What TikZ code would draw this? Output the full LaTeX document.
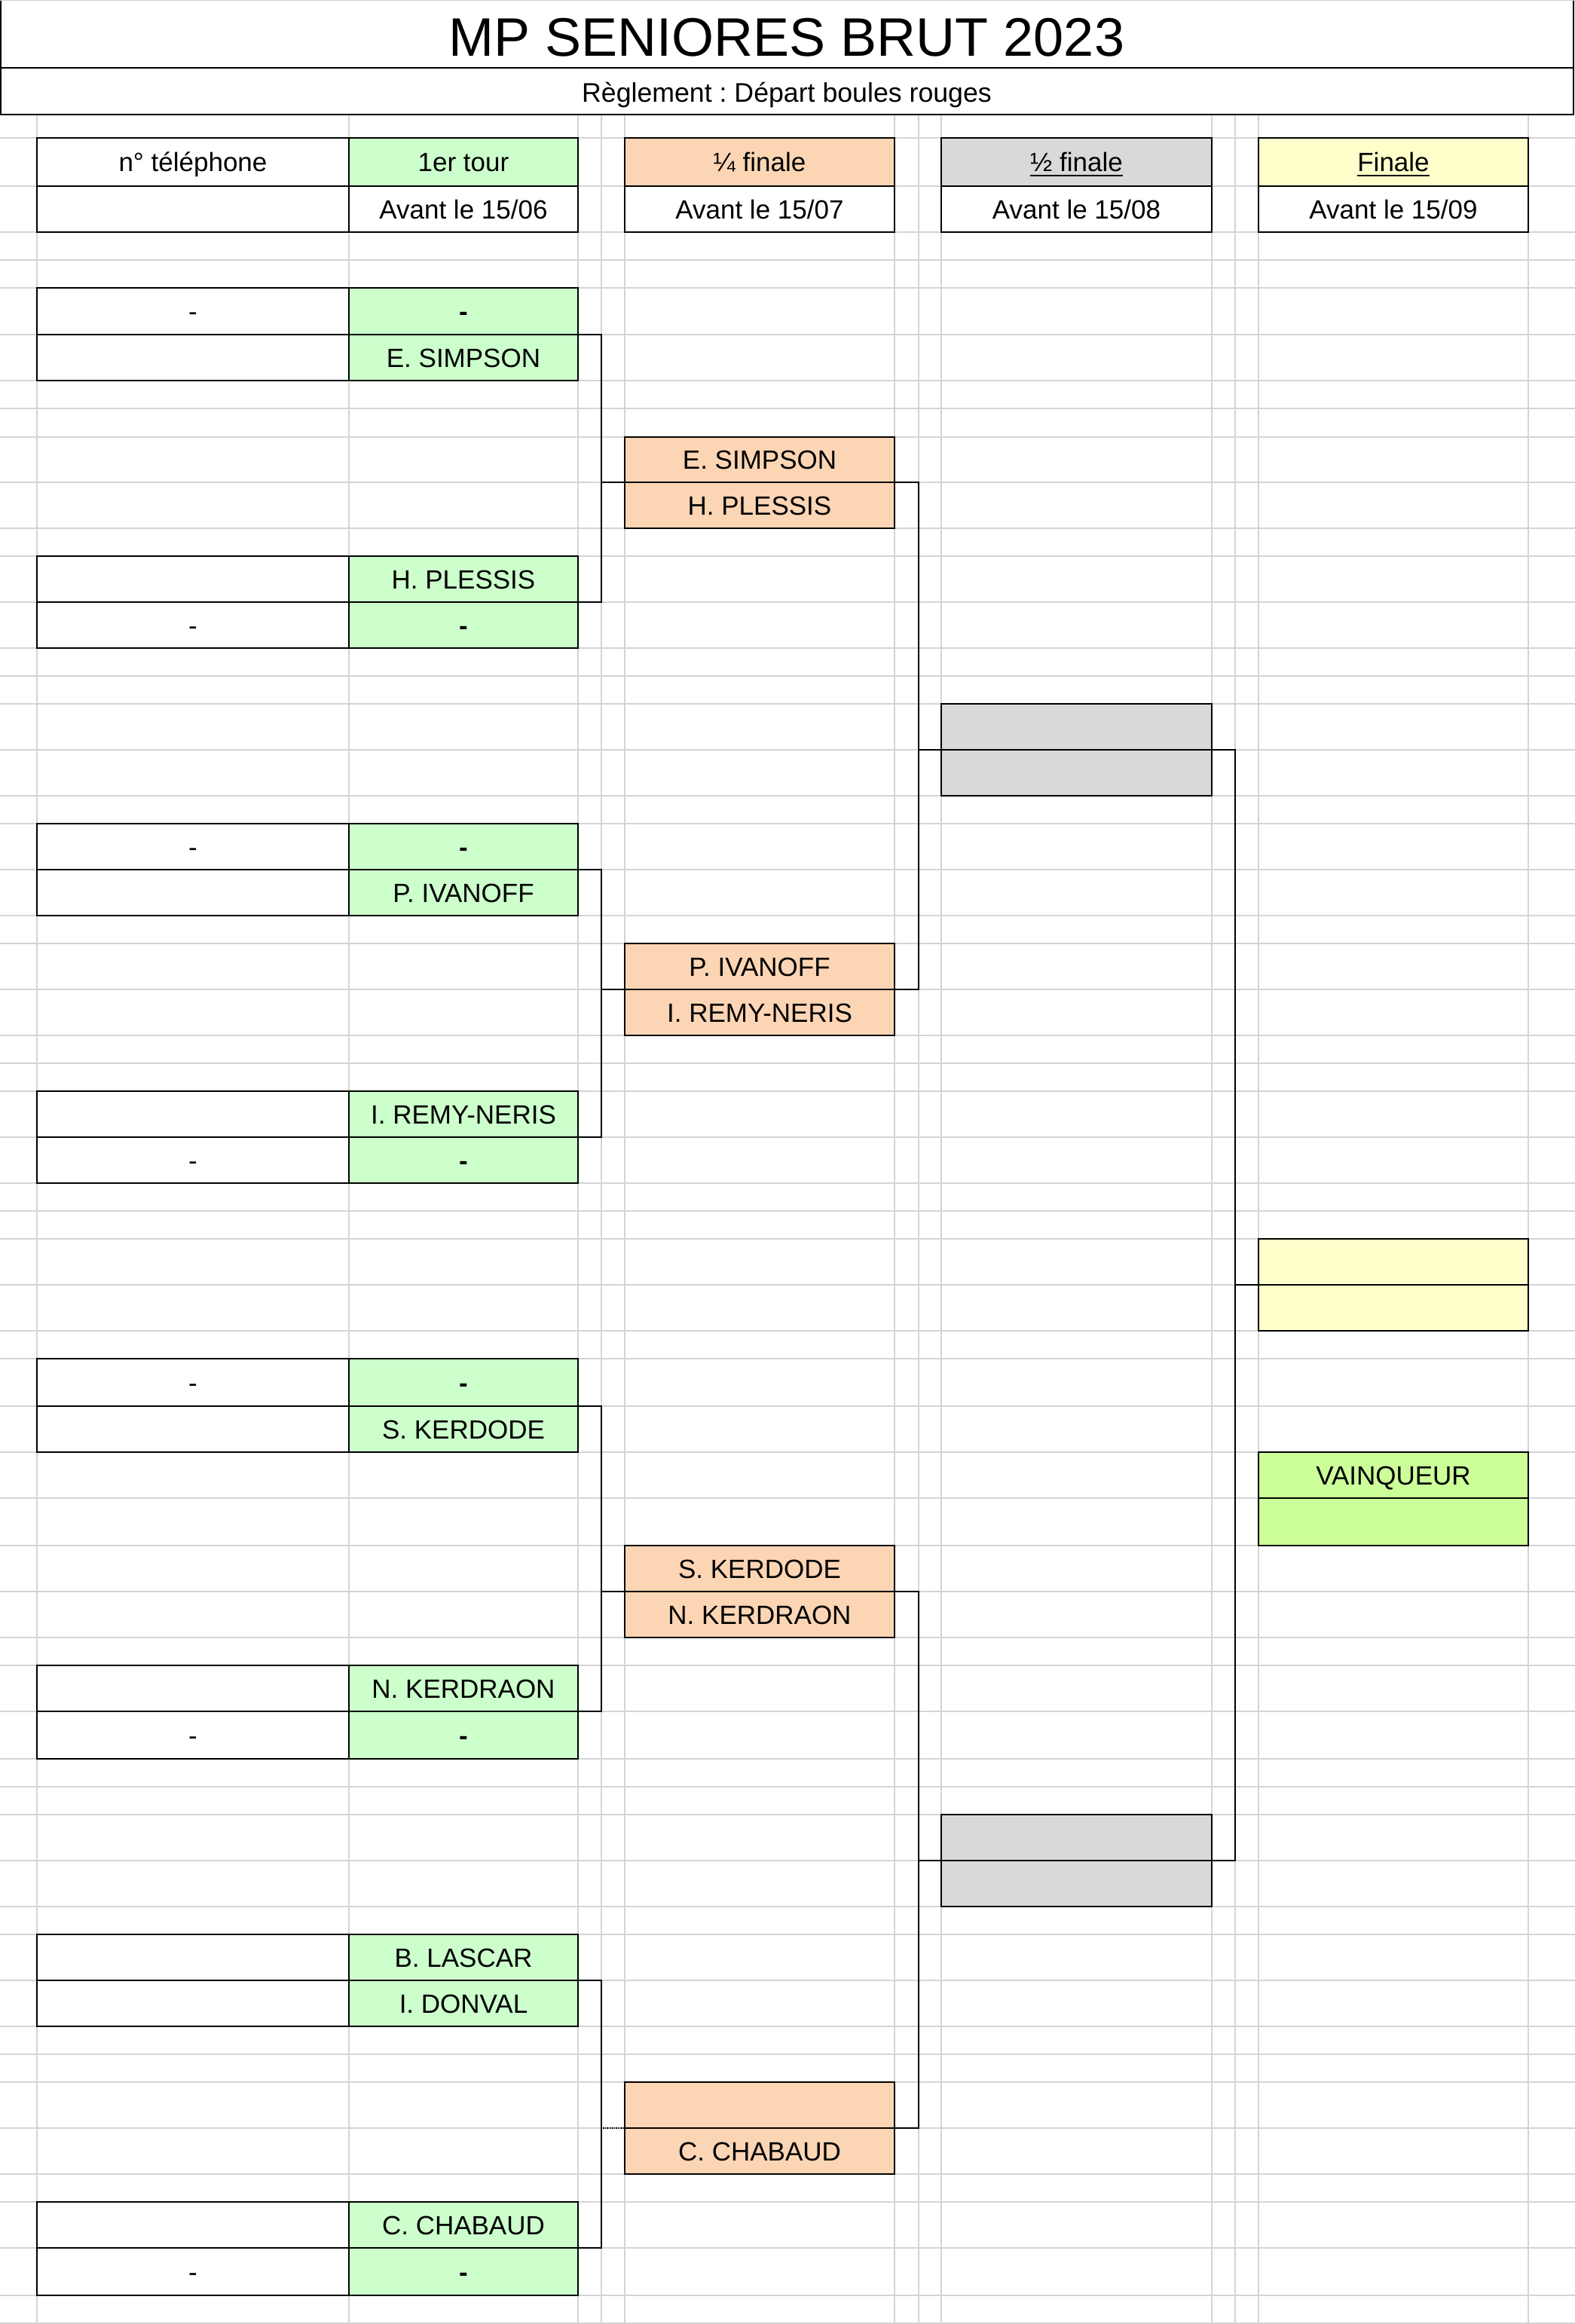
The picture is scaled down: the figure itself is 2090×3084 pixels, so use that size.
\documentclass[tikz,border=0pt]{standalone}
\usepackage{fontspec}
\setmainfont{Liberation Sans}
\frenchspacing
\definecolor{gridc}{RGB}{212,212,212}
\definecolor{gr}{RGB}{204,255,204}
\definecolor{pe}{RGB}{252,213,180}
\definecolor{se}{RGB}{217,217,217}
\definecolor{fi}{RGB}{255,255,204}
\definecolor{wi}{RGB}{204,255,153}
\newcommand\myul[1]{\setbox0\hbox{#1}\rlap{\rule[-6.7pt]{\wd0}{2.7pt}}\box0}
\newcommand\mygdash{\textbf{-}}
\newcommand\mycell[7]{%
  \pgfmathsetmacro\mycw{#4-#2}%
  \pgfmathsetmacro\mych{#5-#3}%
  \pgfmathsetmacro\mycx{(#2+#4)/2}%
  \pgfmathsetmacro\mycy{(#3+#5)/2}%
  \node[cellbox, minimum width=\mycw pt, minimum height=\mych pt, #6] (#1) at (\mycx,\mycy) {#7};}
\tikzset{
  cellbox/.style={draw=black, line width=2pt, rectangle, inner sep=0pt, outer sep=0pt,
    text height=25pt, text depth=0pt, font=\fontsize{35}{42}\selectfont},
  gridline/.style={draw=gridc, line width=1.5pt},
  conn/.style={draw=black, line width=1.4pt},
  frame/.style={draw=black, line width=2pt}
}
\begin{document}
\begin{tikzpicture}[x=1pt,y=-1pt]
\useasboundingbox (0,0) rectangle (2090,3084);
\fill[white] (0,0) rectangle (2090,3084);
% spreadsheet grid
\foreach \gx in {49,463,767,798,829,1187,1219,1249,1608,1639,1670,2028}
  \draw[gridline] (\gx,152) -- (\gx,3084);
\foreach \gy in {183,247,308,345,382,444,505,542,580,640,701,738,799,860,897,934,995,1056,1093,1154,1215,1252,1313,1374,1411,1448,1509,1570,1607,1644,1705,1766,1803,1866,1927,1988,2051,2112,2173,2210,2271,2334,2371,2408,2469,2530,2567,2628,2689,2726,2763,2824,2885,2922,2983,3046,3083}
  \draw[gridline] (0,\gy) -- (2090,\gy);
\draw[gridline] (0,1) -- (2090,1);
% title and subtitle
\mycell{tbox}{1}{1}{2088}{90}{draw=none, fill=white}{}
\draw[frame] (tbox.north west) -- (tbox.south west) -- (tbox.south east) -- (tbox.north east);
\node[anchor=base, inner sep=0pt, font=\fontsize{72}{80}\selectfont] (ttl) at (1044,74) {MP SENIORES BRUT 2023};
\mycell{sbox}{1}{90}{2088}{152}{fill=white}{}
\node[anchor=base, inner sep=0pt, font=\fontsize{35.7}{42}\selectfont] (stl) at (1044,135) {Règlement : Départ boules rouges};
% headers
\mycell{hp1}{49}{183}{463}{247}{fill=white}{n° téléphone}
\mycell{hp2}{49}{247}{463}{308}{fill=white}{}
\mycell{ht1}{463}{183}{767}{247}{fill=gr}{1er tour}
\mycell{ht2}{463}{247}{767}{308}{fill=white}{Avant le 15/06}
\mycell{hq1}{829}{183}{1187}{247}{fill=pe}{¼ finale}
\mycell{hq2}{829}{247}{1187}{308}{fill=white}{Avant le 15/07}
\mycell{hs1}{1249}{183}{1608}{247}{fill=se}{\myul{½ finale}}
\mycell{hs2}{1249}{247}{1608}{308}{fill=white}{Avant le 15/08}
\mycell{hf1}{1670}{183}{2028}{247}{fill=fi}{\myul{Finale}}
\mycell{hf2}{1670}{247}{2028}{308}{fill=white}{Avant le 15/09}
% first round
\mycell{p1a}{49}{382}{463}{444}{fill=white}{-}
\mycell{p1b}{49}{444}{463}{505}{fill=white}{}
\mycell{g1a}{463}{382}{767}{444}{fill=gr}{\mygdash}
\mycell{g1b}{463}{444}{767}{505}{fill=gr}{E. SIMPSON}
\mycell{p2a}{49}{738}{463}{799}{fill=white}{}
\mycell{p2b}{49}{799}{463}{860}{fill=white}{-}
\mycell{g2a}{463}{738}{767}{799}{fill=gr}{H. PLESSIS}
\mycell{g2b}{463}{799}{767}{860}{fill=gr}{\mygdash}
\mycell{p3a}{49}{1093}{463}{1154}{fill=white}{-}
\mycell{p3b}{49}{1154}{463}{1215}{fill=white}{}
\mycell{g3a}{463}{1093}{767}{1154}{fill=gr}{\mygdash}
\mycell{g3b}{463}{1154}{767}{1215}{fill=gr}{P. IVANOFF}
\mycell{p4a}{49}{1448}{463}{1509}{fill=white}{}
\mycell{p4b}{49}{1509}{463}{1570}{fill=white}{-}
\mycell{g4a}{463}{1448}{767}{1509}{fill=gr}{I. REMY-NERIS}
\mycell{g4b}{463}{1509}{767}{1570}{fill=gr}{\mygdash}
\mycell{p5a}{49}{1803}{463}{1866}{fill=white}{-}
\mycell{p5b}{49}{1866}{463}{1927}{fill=white}{}
\mycell{g5a}{463}{1803}{767}{1866}{fill=gr}{\mygdash}
\mycell{g5b}{463}{1866}{767}{1927}{fill=gr}{S. KERDODE}
\mycell{p6a}{49}{2210}{463}{2271}{fill=white}{}
\mycell{p6b}{49}{2271}{463}{2334}{fill=white}{-}
\mycell{g6a}{463}{2210}{767}{2271}{fill=gr}{N. KERDRAON}
\mycell{g6b}{463}{2271}{767}{2334}{fill=gr}{\mygdash}
\mycell{p7a}{49}{2567}{463}{2628}{fill=white}{}
\mycell{p7b}{49}{2628}{463}{2689}{fill=white}{}
\mycell{g7a}{463}{2567}{767}{2628}{fill=gr}{B. LASCAR}
\mycell{g7b}{463}{2628}{767}{2689}{fill=gr}{I. DONVAL}
\mycell{p8a}{49}{2922}{463}{2983}{fill=white}{}
\mycell{p8b}{49}{2983}{463}{3046}{fill=white}{-}
\mycell{g8a}{463}{2922}{767}{2983}{fill=gr}{C. CHABAUD}
\mycell{g8b}{463}{2983}{767}{3046}{fill=gr}{\mygdash}
% quarter finals
\mycell{q1a}{829}{580}{1187}{640}{fill=pe}{E. SIMPSON}
\mycell{q1b}{829}{640}{1187}{701}{fill=pe}{H. PLESSIS}
\mycell{q2a}{829}{1252}{1187}{1313}{fill=pe}{P. IVANOFF}
\mycell{q2b}{829}{1313}{1187}{1374}{fill=pe}{I. REMY-NERIS}
\mycell{q3a}{829}{2051}{1187}{2112}{fill=pe}{S. KERDODE}
\mycell{q3b}{829}{2112}{1187}{2173}{fill=pe}{N. KERDRAON}
\mycell{q4a}{829}{2763}{1187}{2824}{fill=pe}{}
\mycell{q4b}{829}{2824}{1187}{2885}{fill=pe}{C. CHABAUD}
% semi finals
\mycell{s1a}{1249}{934}{1608}{995}{fill=se}{}
\mycell{s1b}{1249}{995}{1608}{1056}{fill=se}{}
\mycell{s2a}{1249}{2408}{1608}{2469}{fill=se}{}
\mycell{s2b}{1249}{2469}{1608}{2530}{fill=se}{}
% final and winner
\mycell{f1a}{1670}{1644}{2028}{1705}{fill=fi}{}
\mycell{f1b}{1670}{1705}{2028}{1766}{fill=fi}{}
\mycell{w1a}{1670}{1927}{2028}{1988}{fill=wi}{VAINQUEUR}
\mycell{w1b}{1670}{1988}{2028}{2051}{fill=wi}{}
% connectors
\coordinate (j1) at (798,640);
\coordinate (j2) at (798,1313);
\coordinate (j3) at (798,2112);
\coordinate (j4) at (798,2824);
\coordinate (k1) at (1219,995);
\coordinate (k2) at (1219,2469);
\coordinate (l1) at (1639,1705);
\draw[conn] (g1a.south east) -| (j1) |- (g2a.south east);
\draw[conn] (j1) -- (q1a.south west);
\draw[conn] (g3a.south east) -| (j2) |- (g4a.south east);
\draw[conn] (j2) -- (q2a.south west);
\draw[conn] (g5a.south east) -| (j3) |- (g6a.south east);
\draw[conn] (j3) -- (q3a.south west);
\draw[conn] (g7a.south east) -| (j4) |- (g8a.south east);
\draw[conn, densely dotted] (j4) -- (q4a.south west);
\draw[conn] (q1a.south east) -| (k1) |- (q2a.south east);
\draw[conn] (k1) -- (s1a.south west);
\draw[conn] (q3a.south east) -| (k2) |- (q4a.south east);
\draw[conn] (k2) -- (s2a.south west);
\draw[conn] (s1a.south east) -| (l1) |- (s2a.south east);
\draw[conn] (l1) -- (f1a.south west);
\end{tikzpicture}
\end{document}
